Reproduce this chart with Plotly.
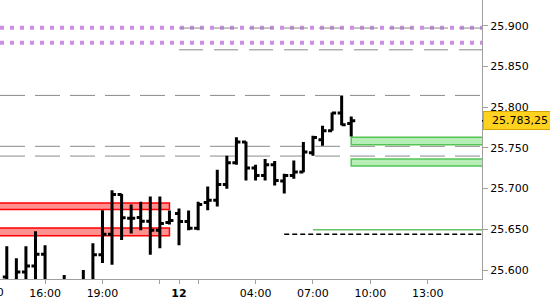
import plotly.graph_objects as go
import pandas as pd

# ---------------- data (30-minute OHLC bars) ----------------
bar_times = [
    "2025-11-11 14:00", "2025-11-11 14:30", "2025-11-11 15:00", "2025-11-11 15:30",
    "2025-11-11 16:00", "2025-11-11 16:30", "2025-11-11 17:00", "2025-11-11 17:30",
    "2025-11-11 18:00", "2025-11-11 18:30", "2025-11-11 19:00", "2025-11-11 19:30",
    "2025-11-11 20:00", "2025-11-11 20:30", "2025-11-11 21:00", "2025-11-11 21:30",
    "2025-11-11 22:00", "2025-11-11 22:30", "2025-11-12 00:00", "2025-11-12 00:30",
    "2025-11-12 01:00", "2025-11-12 01:30", "2025-11-12 02:00", "2025-11-12 02:30",
    "2025-11-12 03:00", "2025-11-12 03:30", "2025-11-12 04:00", "2025-11-12 04:30",
    "2025-11-12 05:00", "2025-11-12 05:30", "2025-11-12 06:00", "2025-11-12 06:30",
    "2025-11-12 07:00", "2025-11-12 07:30", "2025-11-12 08:00", "2025-11-12 08:30",
    "2025-11-12 09:00",
]
open_ = [25591.5, 25585.0, 25597.5, 25605.0, 25619.5, 25582.0, 25575.0, 25585.0,
         25570.0, 25583.0, 25618.75, 25644.0, 25692.75, 25663.5, 25664.5, 25660.0,
         25648.75, 25658.5, 25669.5, 25659.75, 25651.25, 25683.0, 25685.75, 25705.0,
         25731.75, 25757.25, 25725.25, 25716.25, 25729.25, 25709.25, 25716.25, 25720.5,
         25744.0, 25760.0, 25771.0, 25792.75, 25780.0]
high = [25629.25, 25614.5, 25629.25, 25647.5, 25630.5, 25586.0, 25594.0, 25587.0,
        25600.0, 25633.0, 25673.5, 25698.0, 25693.5, 25680.5, 25684.0, 25690.25,
        25690.25, 25673.25, 25675.5, 25673.25, 25684.0, 25702.5, 25723.25, 25740.25,
        25763.0, 25758.0, 25729.25, 25736.5, 25734.0, 25718.25, 25734.5, 25757.25,
        25765.0, 25777.25, 25793.5, 25814.25, 25788.5]
low = [25578.0, 25580.0, 25580.0, 25583.0, 25570.0, 25565.0, 25568.0, 25560.0,
       25565.0, 25575.0, 25608.5, 25606.5, 25637.0, 25645.0, 25649.0, 25618.75,
       25626.75, 25656.0, 25630.5, 25648.75, 25648.75, 25673.5, 25678.0, 25700.0,
       25729.25, 25710.0, 25710.0, 25710.0, 25704.0, 25694.0, 25712.25, 25720.0,
       25740.5, 25752.75, 25771.0, 25778.0, 25764.0]
close = [25586.5, 25597.5, 25605.0, 25619.5, 25582.0, 25575.0, 25585.0, 25570.0,
         25583.0, 25618.75, 25644.0, 25692.75, 25664.25, 25663.5, 25660.0, 25648.75,
         25657.25, 25661.0, 25659.75, 25651.25, 25680.5, 25685.75, 25705.0, 25731.75,
         25757.25, 25725.25, 25716.25, 25729.25, 25710.0, 25716.25, 25720.5, 25745.0,
         25762.75, 25771.0, 25792.75, 25778.5, 25783.25]

# x-axis ticks
tick_times = ["2025-11-11 16:00", "2025-11-11 19:00", "2025-11-11 22:00",
              "2025-11-12 00:00", "2025-11-12 01:00", "2025-11-12 04:00",
              "2025-11-12 07:00", "2025-11-12 10:00", "2025-11-12 13:00"]
tick_labels = ["16:00", "19:00", "", "<b>12</b>", "", "04:00", "07:00", "10:00", "13:00"]
cut_label_time = "2025-11-11 13:00"
cut_label = "13:00"

# y-axis ticks
y_ticks = [25600, 25650, 25700, 25750, 25800, 25850, 25900]

# levels / zones
purple_levels = [25897.5, 25879.25]
gray_full_levels = [25814.5, 25752.0, 25740.0]
gray_day_levels = [25897.25, 25870.5]
gray_day_start = "2025-11-12 00:00"
green_zones = [(25754.0, 25763.0), (25727.75, 25736.5)]
green_zone_start = "2025-11-12 09:00"
green_line_level = 25649.5
green_line_start = "2025-11-12 07:00"
black_dash_level = 25644.0
black_dash_start = "2025-11-12 05:30"
red_zones = [(25674.5, 25682.25), (25642.25, 25651.75)]
red_zone_end = "2025-11-11 22:30"

# ---------------- bar-indexed x axis (session break removed) ----------------
slots = [t for t in pd.date_range("2025-11-11 13:00", "2025-11-12 16:00", freq="30min")
         if t.hour != 23]
slot_idx = {t.strftime("%Y-%m-%d %H:%M"): i for i, t in enumerate(slots)}
xs = [slot_idx[t] for t in bar_times]

XR = [1.29, 51.67]
YR = [25589.0, 25931.7]
FONT = "DejaVu Sans"
AX = "#a0a0a0"

fig = go.Figure()
fig.add_trace(go.Ohlc(
    x=xs, open=open_, high=high, low=low, close=close,
    increasing=dict(line=dict(color="black", width=3)),
    decreasing=dict(line=dict(color="black", width=3)),
    tickwidth=0.42, hoverinfo="skip", showlegend=False,
))

shapes = []
for lv in purple_levels:
    shapes.append(dict(type="line", xref="x", yref="y", x0=XR[0], x1=XR[1], y0=lv, y1=lv,
                       line=dict(color="#cc8ee6", width=4, dash="4px,6px"), layer="below"))
for lv in gray_full_levels:
    shapes.append(dict(type="line", xref="x", yref="y", x0=XR[0], x1=XR[1], y0=lv, y1=lv,
                       line=dict(color="#8a8a8a", width=1, dash="25px,10px"), layer="below"))
for lv in gray_day_levels:
    shapes.append(dict(type="line", xref="x", yref="y", x0=slot_idx[gray_day_start], x1=XR[1],
                       y0=lv, y1=lv, line=dict(color="#8a8a8a", width=1, dash="24px,11px"),
                       layer="below"))
for lo, hi in red_zones:
    shapes.append(dict(type="rect", xref="x", yref="y", x0=XR[0] - 0.2, x1=slot_idx[red_zone_end],
                       y0=lo, y1=hi, fillcolor="#ff9090",
                       line=dict(color="#ff0000", width=1.5), layer="below"))
for lo, hi in green_zones:
    shapes.append(dict(type="rect", xref="x", yref="y", x0=slot_idx[green_zone_start], x1=XR[1] + 0.5,
                       y0=lo, y1=hi, fillcolor="#b6eeb6",
                       line=dict(color="#55c455", width=1.5), layer="below"))
shapes.append(dict(type="line", xref="x", yref="y", x0=slot_idx[green_line_start], x1=XR[1],
                   y0=green_line_level, y1=green_line_level,
                   line=dict(color="#66c066", width=1.5), layer="below"))
shapes.append(dict(type="line", xref="x", yref="y", x0=slot_idx[black_dash_start], x1=XR[1],
                   y0=black_dash_level, y1=black_dash_level,
                   line=dict(color="black", width=1.5, dash="5px,3px"), layer="below"))
# last-price marker on the axis
last = close[-1]
shapes.append(dict(type="line", xref="paper", yref="y", x0=1.0, x1=1.0 + 6 / 482,
                   y0=last, y1=last, line=dict(color="black", width=1.5)))


def euro(v, dec):
    s = f"{v:,.{dec}f}"
    return s.replace(",", "X").replace(".", ",").replace("X", ".")


annotations = [
    dict(xref="paper", yref="y", x=1.0, y=last, xanchor="left", yanchor="middle", xshift=1,
         text=euro(last, 2), showarrow=False, bgcolor="#ffd21f", bordercolor="#d9a800",
         borderwidth=1, borderpad=2, width=62, align="right",
         font=dict(family=FONT, size=11, color="black")),
    dict(xref="paper", yref="paper",
         x=(slot_idx[cut_label_time] - XR[0]) / (XR[1] - XR[0]), y=0,
         xanchor="center", yanchor="top", yshift=-5, text=cut_label, showarrow=False,
         font=dict(family=FONT, size=11, color="black")),
]

fig.update_layout(
    width=550, height=300,
    margin=dict(l=0, r=68, t=0, b=19),
    paper_bgcolor="white", plot_bgcolor="white",
    shapes=shapes, annotations=annotations,
    font=dict(family=FONT, size=11, color="black"),
    xaxis=dict(range=XR, showgrid=False, zeroline=False, showline=True, linecolor=AX,
               linewidth=1, ticks="outside", ticklen=4, tickcolor=AX,
               tickvals=[slot_idx[t] for t in tick_times], ticktext=tick_labels,
               tickfont=dict(family=FONT, size=11, color="black"),
               rangeslider=dict(visible=False), fixedrange=True),
    yaxis=dict(range=YR, side="right", showgrid=False, zeroline=False, showline=True,
               linecolor=AX, linewidth=1, ticks="outside", ticklen=5, tickcolor=AX,
               tickvals=y_ticks, ticktext=[euro(v, 0) for v in y_ticks],
               tickfont=dict(family=FONT, size=11, color="black"), fixedrange=True),
)

fig.write_html("out.html")
